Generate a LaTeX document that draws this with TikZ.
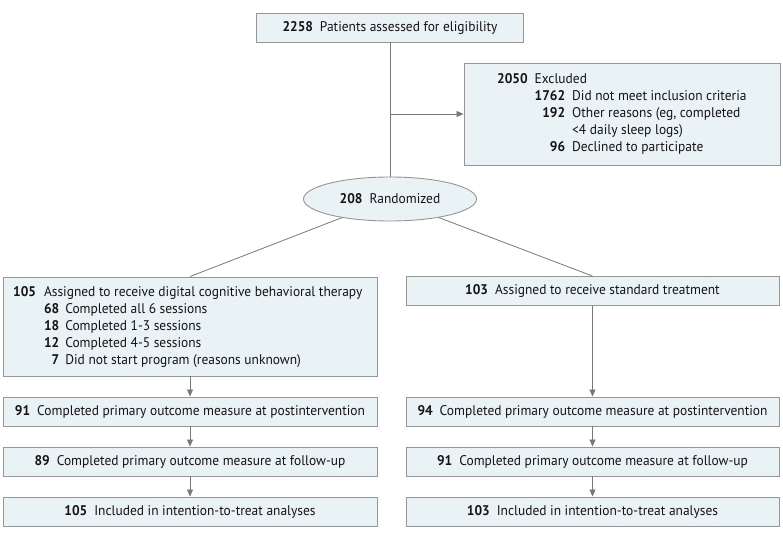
\documentclass[tikz,border=0pt]{standalone}
\usepackage{fontspec}
\setmainfont[FakeStretch=0.96]{PT Sans}
\usetikzlibrary{arrows.meta,shapes.geometric}
\definecolor{boxfill}{RGB}{233,242,245}
\definecolor{boxborder}{RGB}{150,150,150}
\definecolor{linegray}{RGB}{120,120,120}
\definecolor{txt}{RGB}{20,20,20}
\tikzset{
  box/.style={draw=boxborder, fill=boxfill, line width=0.9pt, inner sep=0pt, text=txt,
    font=\fontsize{14}{17}\selectfont},
  conn/.style={draw=linegray, line width=0.8pt},
  arr/.style={conn, -{Triangle[width=6pt,length=7pt]}},
  txtnode/.style={inner sep=0pt, text=txt, font=\fontsize{14}{17}\selectfont, anchor=west},
}
\newcommand{\nb}[1]{\textbf{#1}\hspace{7pt}}
\begin{document}
\begin{tikzpicture}[x=1pt,y=-1pt]
\useasboundingbox (0,0) rectangle (783,540);
% boxes
\node[box, minimum width=267pt, minimum height=29pt] (top) at (390,27.5) {\nb{2258}Patients assessed for eligibility};
\node[box, minimum width=316pt, minimum height=102pt] (excl) at (622,114) {};
\node[txtnode] (excltxt) at (497,114) {\begin{tabular}{@{}r@{\hspace{7pt}}r@{\hspace{7pt}}l@{}}
\textbf{2050} & \multicolumn{2}{@{}l}{Excluded}\\
 & \textbf{1762} & Did not meet inclusion criteria\\
 & \textbf{192} & Other reasons (eg, completed\\
 & & {<}4 daily sleep logs)\\
 & \textbf{96} & Declined to participate
\end{tabular}};
\node[box, ellipse, minimum width=173pt, minimum height=44pt] (rand) at (390,199) {\nb{208}Randomized};
\node[box, minimum width=374pt, minimum height=99pt] (a1) at (190,326.5) {};
\node[txtnode] (a1txt) at (13,327) {\begin{tabular}{@{}r@{\hspace{8pt}}r@{\hspace{6pt}}l@{}}
\textbf{105} & \multicolumn{2}{@{}l}{Assigned to receive digital cognitive behavioral therapy}\\
 & \textbf{68} & Completed all 6 sessions\\
 & \textbf{18} & Completed 1-3 sessions\\
 & \textbf{12} & Completed 4-5 sessions\\
 & \textbf{7} & Did not start program (reasons unknown)
\end{tabular}};
\node[box, minimum width=373pt, minimum height=29pt] (b1) at (592.5,291) {\nb{103}Assigned to receive standard treatment};
\node[box, minimum width=374pt, minimum height=29pt] (a2) at (190,411.5) {\nb{91}Completed primary outcome measure at postintervention};
\node[box, minimum width=373pt, minimum height=29pt] (b2) at (592.5,411.5) {\nb{94}Completed primary outcome measure at postintervention};
\node[box, minimum width=374pt, minimum height=29pt] (a3) at (190,461.5) {\nb{89}Completed primary outcome measure at follow-up};
\node[box, minimum width=373pt, minimum height=29pt] (b3) at (592.5,461.5) {\nb{91}Completed primary outcome measure at follow-up};
\node[box, minimum width=374pt, minimum height=29pt] (a4) at (190,511.5) {\nb{105}Included in intention-to-treat analyses};
\node[box, minimum width=373pt, minimum height=29pt] (b4) at (592.5,511.5) {\nb{103}Included in intention-to-treat analyses};
% connectors
\coordinate (j) at (390,114);
\draw[conn] (top.south) -- (rand.north);
\draw[arr] (j) -- (excl.west);
\draw[conn] (rand) -- (a1.north);
\draw[conn] (rand) -- (b1.north);
\draw[arr] (a1.south) -- (a2.north);
\draw[arr] (a2.south) -- (a3.north);
\draw[arr] (a3.south) -- (a4.north);
\draw[arr] (b1.south) -- (b2.north);
\draw[arr] (b2.south) -- (b3.north);
\draw[arr] (b3.south) -- (b4.north);
\end{tikzpicture}
\end{document}
